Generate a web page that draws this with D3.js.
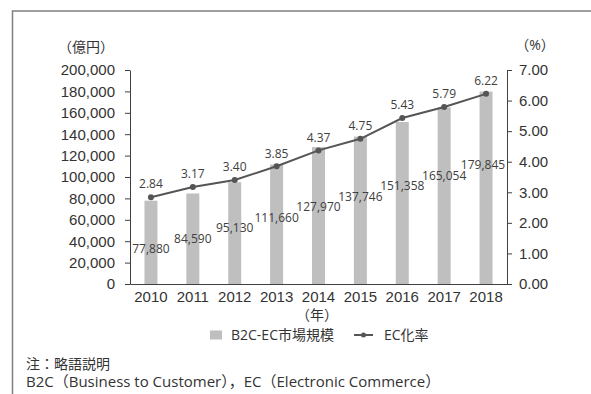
<!DOCTYPE html>
<html>
<head>
<meta charset="utf-8">
<script src="https://cdn.jsdelivr.net/npm/d3@7"></script>
<style>
  body { margin: 0; background: #fff; }
  svg { display: block; font-family: 'Open Sans', 'Noto Sans CJK JP', sans-serif; }
  .axis text { fill: #333; font-size: 15px; }
  .axis path, .axis line { stroke: #404040; }
  .val { fill: #404040; font-size: 12px; }
  .note { fill: #333; font-size: 14px; }
</style>
</head>
<body>
<svg width="591" height="394"></svg>
<script>
// Data
var years = ['2010', '2011', '2012', '2013', '2014', '2015', '2016', '2017', '2018'];
var marketSize = [77880, 84590, 95130, 111660, 127970, 137746, 151358, 165054, 179845];
var ecRate = [2.84, 3.17, 3.40, 3.85, 4.37, 4.75, 5.43, 5.79, 6.22];
var leftTicks = [0, 20000, 40000, 60000, 80000, 100000, 120000, 140000, 160000, 180000, 200000];
var rightTicks = [0, 1, 2, 3, 4, 5, 6, 7];

var svg = d3.select('svg');

// frame (only top and left edges are visible)
svg.append('path')
  .attr('d', 'M12.5,394V11H591')
  .attr('fill', 'none')
  .attr('stroke', '#808080')
  .attr('stroke-width', 1.5);

var scaleX = d3.scaleBand()
  .domain(years)
  .range([130, 507])
  .paddingInner(0.69)
  .paddingOuter(0.345);
var scaleY = d3.scaleLinear().domain([0, 200000]).range([284, 70]);
var scaleR = d3.scaleLinear().domain([0, 7]).range([284, 70]);
// bar labels step up evenly from bar to bar
var scaleLab = d3.scaleLinear().domain([0, years.length - 1]).range([scaleY(32700), scaleY(111200)]);

function cx(i) { return scaleX(years[i]) + scaleX.bandwidth() / 2; }

// bars
svg.append('g').selectAll('rect')
  .data(marketSize)
  .enter().append('rect')
  .attr('x', function(d, i) { return scaleX(years[i]); })
  .attr('y', function(d) { return scaleY(d); })
  .attr('width', scaleX.bandwidth())
  .attr('height', function(d) { return scaleY(0) - scaleY(d); })
  .attr('fill', '#bfbfbf');

// axes
svg.append('g').attr('class', 'axis')
  .attr('transform', 'translate(130,0)')
  .call(d3.axisLeft(scaleY).tickValues(leftTicks).tickSize(5).tickSizeOuter(0)
    .tickPadding(10).tickFormat(d3.format(',')));
svg.append('g').attr('class', 'axis')
  .attr('transform', 'translate(507,0)')
  .call(d3.axisRight(scaleR).tickValues(rightTicks).tickSize(5).tickSizeOuter(0)
    .tickPadding(7).tickFormat(d3.format('.2f')));
svg.append('g').attr('class', 'axis')
  .attr('transform', 'translate(0,284)')
  .call(d3.axisBottom(scaleX).tickSize(0).tickSizeOuter(0).tickPadding(7));

// bar value labels (kept clear of the right axis)
svg.append('g').selectAll('text')
  .data(marketSize)
  .enter().append('text')
  .attr('class', 'val')
  .attr('x', function(d, i) { return Math.min(cx(i), scaleX.range()[1] - 24); })
  .attr('y', function(d, i) { return scaleLab(i); })
  .attr('dy', '0.35em')
  .attr('text-anchor', 'middle')
  .text(function(d) { return d3.format(',')(d); });

// EC rate line
var line = d3.line()
  .x(function(d, i) { return cx(i); })
  .y(function(d) { return scaleR(d); });
svg.append('path')
  .datum(ecRate)
  .attr('d', line)
  .attr('fill', 'none')
  .attr('stroke', '#555')
  .attr('stroke-width', 2);
svg.append('g').selectAll('circle')
  .data(ecRate)
  .enter().append('circle')
  .attr('cx', function(d, i) { return cx(i); })
  .attr('cy', function(d) { return scaleR(d); })
  .attr('r', 3)
  .attr('fill', '#555');
svg.append('g').selectAll('text')
  .data(ecRate)
  .enter().append('text')
  .attr('class', 'val')
  .attr('x', function(d, i) { return cx(i); })
  .attr('y', function(d) { return scaleR(d) - 13; })
  .attr('dy', '0.35em')
  .attr('text-anchor', 'middle')
  .text(function(d) { return d.toFixed(2); });

// unit labels
svg.append('text').attr('class', 'note')
  .attr('x', 86).attr('y', 47).attr('dy', '0.35em')
  .attr('text-anchor', 'middle').text('（億円）');
svg.append('text').attr('class', 'note')
  .attr('x', 535).attr('y', 45).attr('dy', '0.35em')
  .attr('text-anchor', 'middle').text('（%）');
svg.append('text').attr('class', 'note')
  .attr('x', 317).attr('y', 315).attr('dy', '0.35em')
  .attr('text-anchor', 'middle').text('（年）');

// legend
var legend = svg.append('g').attr('transform', 'translate(0,335)');
legend.append('rect')
  .attr('x', 210).attr('y', -4.5).attr('width', 12).attr('height', 9)
  .attr('fill', '#bfbfbf');
legend.append('text').attr('class', 'note')
  .attr('x', 231).attr('dy', '0.35em').text('B2C-EC市場規模');
legend.append('line')
  .attr('x1', 354).attr('x2', 373)
  .attr('stroke', '#555').attr('stroke-width', 2);
legend.append('circle')
  .attr('cx', 363.5).attr('r', 2.5).attr('fill', '#555');
legend.append('text').attr('class', 'note')
  .attr('x', 384).attr('dy', '0.35em').text('EC化率');

// footnote
svg.append('text').attr('class', 'note')
  .attr('x', 26).attr('y', 364).attr('dy', '0.35em').text('注：略語説明');
svg.append('text').attr('class', 'note')
  .attr('x', 26).attr('y', 382).attr('dy', '0.35em')
  .style('font-size', '15px')
  .text('B2C（Business to Customer），EC（Electronic Commerce）');
</script>
</body>
</html>
